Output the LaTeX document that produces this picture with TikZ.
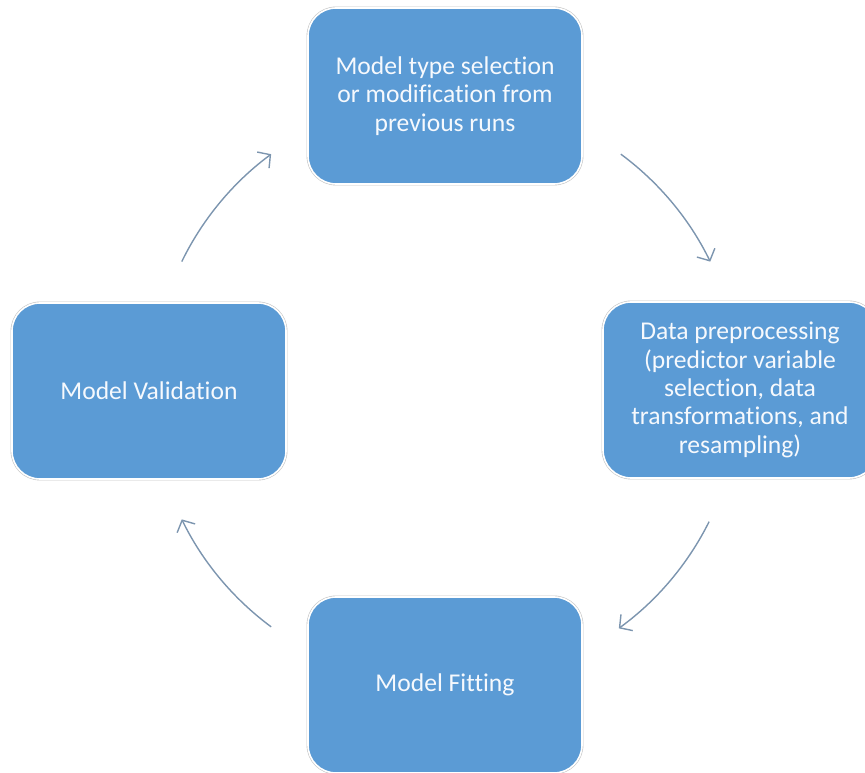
\documentclass[tikz,border=0pt]{standalone}
\usepackage{fontspec}
\setmainfont{Carlito}[Ligatures=NoCommon]
\usetikzlibrary{arrows.meta,calc}
\definecolor{boxblue}{HTML}{5B9BD5}
\definecolor{rimgray}{HTML}{C4C4C4}
\definecolor{flowgray}{HTML}{7C95AF}
\definecolor{boxtext}{HTML}{F6F9FD}
\begin{document}
\begin{tikzpicture}[x=1pt,y=1pt,
  stage/.style={rectangle, rounded corners=28pt, minimum width=274pt, minimum height=176pt,
    fill=boxblue, draw=white, line width=1.6pt,
    preaction={draw=rimgray, line width=2.8pt},
    text=boxtext, align=center, inner sep=4pt,
    font=\fontsize{25.6}{28.4}\selectfont},
  flow/.style={draw=flowgray, line width=1.4pt,
    -{Straight Barb[length=9pt,width=20pt,line width=1.4pt]}}]
  \useasboundingbox (0,0) rectangle (865,773);
  \clip (0,0) rectangle (865,773);

  % the four stages of the cycle
  \node[stage] (select) at (445,677) {Model type selection\\or modification from\\previous runs};
  \node[stage] (prep)   at (740,383) {Data preprocessing\\(predictor variable\\selection, data\\transformations, and\\resampling)};
  \node[stage] (fit)    at (445,88)  {Model Fitting};
  \node[stage] (valid)  at (149,382) {Model Validation};

  % curved arrows on a common circle around the middle
  \coordinate (hub) at (446,382.5);
  \coordinate (a1) at ($(hub)+(154:294pt)$);
  \coordinate (a2) at ($(hub)+(53.5:294pt)$);
  \coordinate (a3) at ($(hub)+(-26.5:294pt)$);
  \coordinate (a4) at ($(hub)+(-126.5:294pt)$);

  \draw[flow] (a1) arc[start angle=154,  end angle=126.5, radius=294pt];
  \draw[flow] (a2) arc[start angle=53.5, end angle=26,    radius=294pt];
  \draw[flow] (a3) arc[start angle=-26.5,end angle=-54,   radius=294pt];
  \draw[flow] (a4) arc[start angle=-126.5,end angle=-154, radius=294pt];
\end{tikzpicture}
\end{document}
